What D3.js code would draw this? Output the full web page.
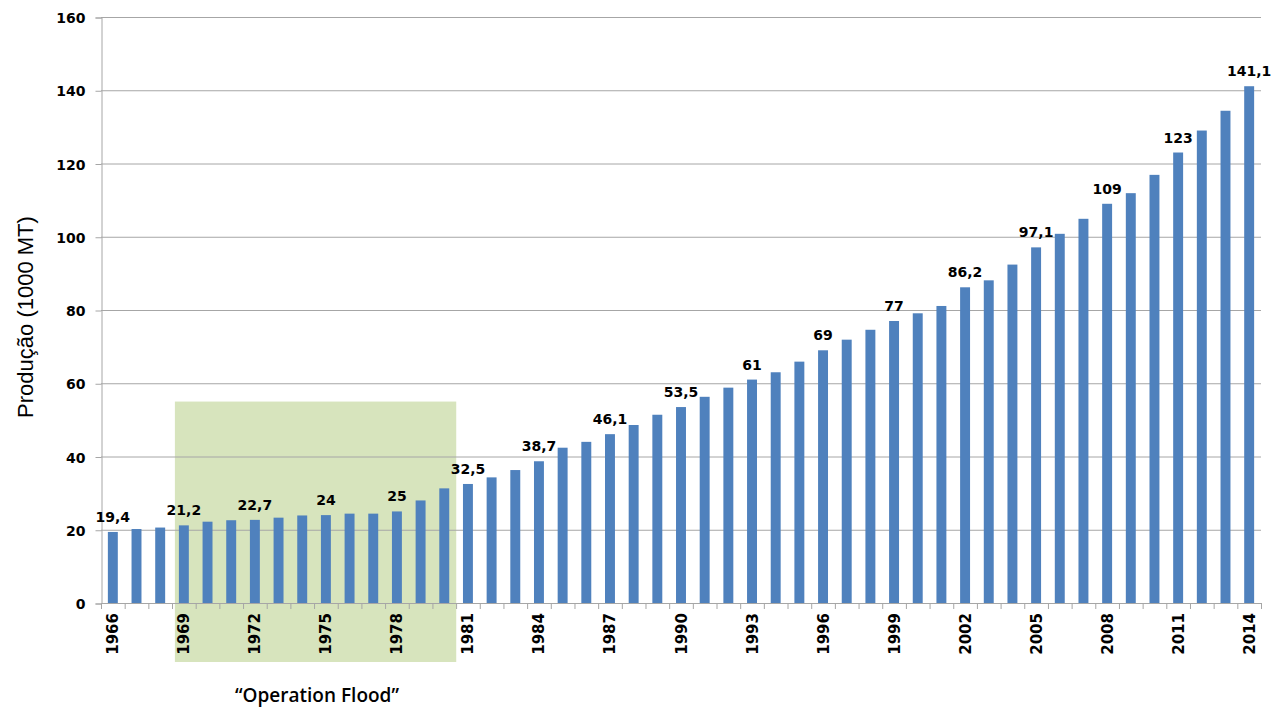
<!DOCTYPE html>
<html>

<head>
  <meta charset="UTF-8">
  <title>Produção 1966-2014</title>
  <script src="https://d3js.org/d3.v7.min.js"></script>
  <style>
    body {
      margin: 0;
      background: #fff;
    }

    svg text {
      fill: #000;
    }
  </style>
</head>

<body>
  <svg></svg>

  <script>
    // categories
    let years = d3.range(1966, 2015);

    // production values
    let production = [
      19.4, 20.2, 20.6, 21.2, 22.2, 22.6, 22.7, 23.3, 23.9, 24.0,
      24.4, 24.4, 25.0, 28.0, 31.3, 32.5, 34.3, 36.3, 38.7, 42.4,
      44.0, 46.1, 48.6, 51.4, 53.5, 56.3, 58.8, 61.0, 63.0, 65.9,
      69.0, 71.9, 74.6, 77.0, 79.1, 81.1, 86.2, 88.1, 92.4, 97.1,
      100.8, 104.9, 109.0, 111.9, 116.9, 123.0, 129.0, 134.4, 141.1
    ];

    // years with a value label and a tick label
    let labelYears = d3.range(1966, 2015, 3);
    let yTicks = [0, 20, 40, 60, 80, 100, 120, 140, 160];

    // "Operation Flood" period
    let floodYears = [1969, 1980];
    let floodTop = 55;

    let width = 1280,
      height = 717;

    let svg = d3.select("svg")
      .attr("width", width)
      .attr("height", height);

    let data = years.map((y, i) => ({ year: y, value: production[i] }));

    let x = d3.scaleBand()
      .domain(years)
      .range([101, 1261])
      .paddingInner(0.58)
      .paddingOuter(0.29);

    let y = d3.scaleLinear()
      .domain([0, 160])
      .range([603, 17]);

    // green highlight box
    svg.append("rect")
      .attr("x", x(floodYears[0]) - 4)
      .attr("y", y(floodTop))
      .attr("width", x(floodYears[1]) + x.bandwidth() + 7 - (x(floodYears[0]) - 4))
      .attr("height", 662 - y(floodTop))
      .attr("fill", "#d7e4bd");

    // gridlines
    svg.append("g")
      .selectAll("line")
      .data(yTicks.slice(1))
      .enter()
      .append("line")
      .attr("x1", 101)
      .attr("x2", 1261)
      .attr("y1", d => y(d) + 0.5)
      .attr("y2", d => y(d) + 0.5)
      .attr("stroke", "#a6a6a6")
      .attr("stroke-width", 1);

    // y axis
    let yAxis = d3.axisLeft(y)
      .tickValues(yTicks)
      .tickSize(6)
      .tickPadding(10);

    let gy = svg.append("g")
      .attr("transform", "translate(101.5,0.5)")
      .call(yAxis);
    gy.select(".domain").attr("stroke", "#a6a6a6");
    gy.selectAll(".tick line").attr("stroke", "#a6a6a6");
    gy.selectAll(".tick text")
      .attr("font-family", "DejaVu Sans")
      .attr("font-weight", "bold")
      .attr("font-size", "14px")
      .attr("dy", "0.36em");

    // bars
    svg.append("g")
      .selectAll("rect")
      .data(data)
      .enter()
      .append("rect")
      .attr("x", d => x(d.year))
      .attr("y", d => y(d.value))
      .attr("width", x.bandwidth())
      .attr("height", d => y(0) - y(d.value))
      .attr("fill", "#4f81bd");

    // x axis line + ticks between categories
    svg.append("line")
      .attr("x1", 101)
      .attr("x2", 1261)
      .attr("y1", 603.5)
      .attr("y2", 603.5)
      .attr("stroke", "#a6a6a6");

    svg.append("g")
      .selectAll("line")
      .data(d3.range(years.length + 1))
      .enter()
      .append("line")
      .attr("x1", i => 101.5 + i * x.step())
      .attr("x2", i => 101.5 + i * x.step())
      .attr("y1", 603)
      .attr("y2", 609)
      .attr("stroke", "#a6a6a6");

    // x tick labels
    svg.append("g")
      .selectAll("text")
      .data(labelYears)
      .enter()
      .append("text")
      .attr("transform", d => "translate(" + (x(d) + x.bandwidth() / 2 + 5.5) + ",613) rotate(-90)")
      .attr("text-anchor", "end")
      .attr("font-family", "DejaVu Sans")
      .attr("font-weight", "bold")
      .attr("font-size", "15px")
      .text(d => d);

    // value labels
    svg.append("g")
      .selectAll("text")
      .data(data.filter(d => labelYears.includes(d.year)))
      .enter()
      .append("text")
      .attr("x", d => x(d.year) + x.bandwidth() / 2)
      .attr("y", d => y(d.value) - 10)
      .attr("text-anchor", "middle")
      .attr("font-family", "DejaVu Sans")
      .attr("font-weight", "bold")
      .attr("font-size", "14px")
      .text(d => String(d.value).replace(".", ","));

    // y axis title
    svg.append("text")
      .attr("transform", "translate(33,317) rotate(-90)")
      .attr("text-anchor", "middle")
      .attr("font-family", "Liberation Sans")
      .attr("font-size", "22px")
      .text("Produção (1000 MT)");

    // annotation
    svg.append("text")
      .attr("x", 317)
      .attr("y", 702)
      .attr("text-anchor", "middle")
      .attr("font-family", "Open Sans")
      .attr("font-weight", "600")
      .attr("font-size", "19px")
      .text("\u201COperation Flood\u201D");
  </script>

</body>

</html>
